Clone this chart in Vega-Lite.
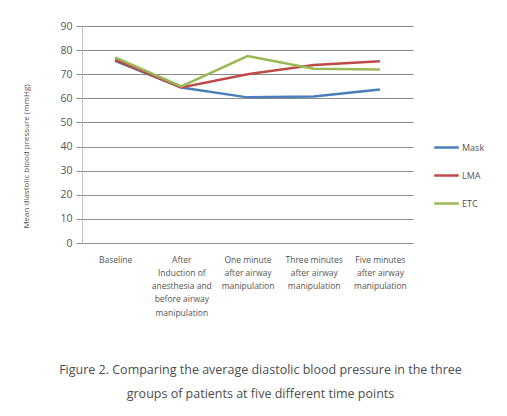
{
  "$schema": "https://vega.github.io/schema/vega-lite/v6.json",
  "width": 331,
  "height": 217,
  "autosize": {"type": "none"},
  "padding": {"left": 82, "top": 26, "right": 94, "bottom": 173},
  "background": "white",
  "config": {
    "view": {"stroke": null},
    "font": "Open Sans"
  },
  "title": {
    "text": ["Figure 2. Comparing the average diastolic blood pressure in the three", "groups of patients at five different time points"],
    "orient": "bottom",
    "anchor": "middle",
    "frame": "group",
    "dx": 13,
    "offset": 47,
    "fontSize": 12.5,
    "fontWeight": "normal",
    "font": "Open Sans",
    "color": "#4d4d4d",
    "lineHeight": 24
  },
  "data": {
    "values": [
      {"time": "Baseline", "group": "Mask", "dbp": 75.5},
      {"time": "Baseline", "group": "LMA", "dbp": 76},
      {"time": "Baseline", "group": "ETC", "dbp": 77},
      {"time": "After|Induction of|anesthesia and|before airway|manipulation", "group": "Mask", "dbp": 64.5},
      {"time": "After|Induction of|anesthesia and|before airway|manipulation", "group": "LMA", "dbp": 64.5},
      {"time": "After|Induction of|anesthesia and|before airway|manipulation", "group": "ETC", "dbp": 65},
      {"time": "One minute|after airway|manipulation", "group": "Mask", "dbp": 60.4},
      {"time": "One minute|after airway|manipulation", "group": "LMA", "dbp": 70},
      {"time": "One minute|after airway|manipulation", "group": "ETC", "dbp": 77.5},
      {"time": "Three minutes|after airway|manipulation", "group": "Mask", "dbp": 60.8},
      {"time": "Three minutes|after airway|manipulation", "group": "LMA", "dbp": 73.8},
      {"time": "Three minutes|after airway|manipulation", "group": "ETC", "dbp": 72.3},
      {"time": "Five minutes|after airway|manipulation", "group": "Mask", "dbp": 63.7},
      {"time": "Five minutes|after airway|manipulation", "group": "LMA", "dbp": 75.4},
      {"time": "Five minutes|after airway|manipulation", "group": "ETC", "dbp": 72}
    ]
  },
  "mark": {"type": "line", "strokeWidth": 2.5},
  "encoding": {
    "x": {
      "field": "time",
      "type": "nominal",
      "sort": null,
      "axis": {
        "title": null,
        "labelAngle": 0,
        "labelExpr": "split(datum.label, '|')",
        "labelFontSize": 8.5,
        "labelLineHeight": 13.3,
        "labelColor": "#555555",
        "labelBaseline": "top",
        "labelPadding": 12,
        "ticks": false,
        "domainColor": "#8c8c8c",
        "labelLimit": 0
      }
    },
    "y": {
      "field": "dbp",
      "type": "quantitative",
      "scale": {"domain": [0, 90], "nice": false},
      "axis": {
        "values": [0, 10, 20, 30, 40, 50, 60, 70, 80, 90],
        "title": "Mean diastolic blood pressure (mmHg)",
        "titleFontSize": 8,
        "titleFontWeight": "normal",
        "titleColor": "#555555",
        "titleX": -52,
        "titleY": 130,
        "titleAlign": "center",
        "labelFontSize": 10.5,
        "labelColor": "#555555",
        "labelPadding": 4,
        "tickSize": 6,
        "tickColor": "#8c8c8c",
        "gridColor": "#8c8c8c",
        "domainColor": "#bfbfbf"
      }
    },
    "color": {
      "field": "group",
      "type": "nominal",
      "scale": {"domain": ["Mask", "LMA", "ETC"], "range": ["#4A7EBB", "#BE4B48", "#98B954"]},
      "legend": {
        "title": null,
        "orient": "none",
        "legendX": 351,
        "legendY": 108,
        "symbolType": "stroke",
        "symbolSize": 600,
        "symbolStrokeWidth": 2.5,
        "labelFontSize": 9,
        "labelColor": "#555555",
        "labelOffset": 2,
        "rowPadding": 9
      }
    }
  }
}
